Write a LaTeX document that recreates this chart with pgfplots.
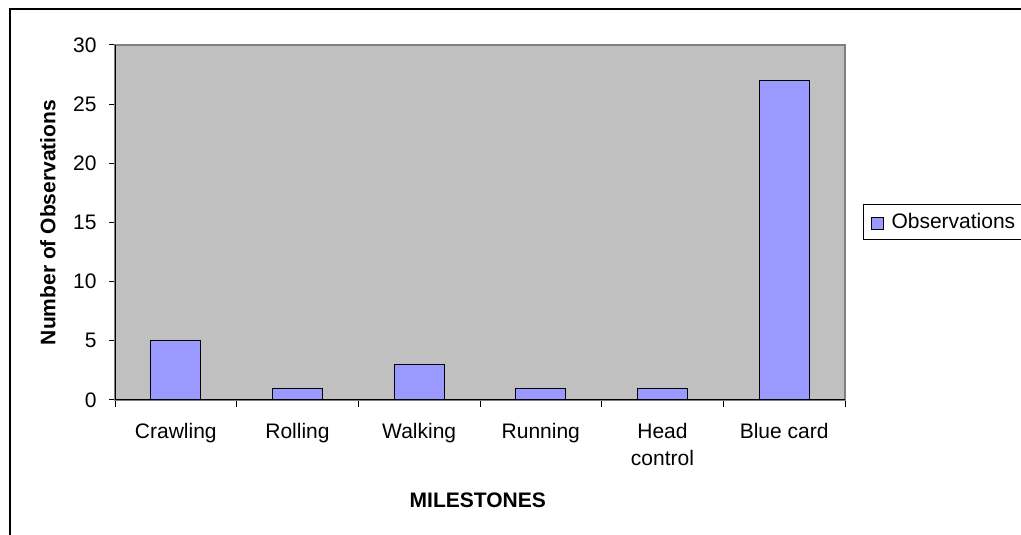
\documentclass[border=0pt]{standalone}
\usepackage{fontspec}
\setmainfont{Liberation Sans}
\usepackage{pgfplots}
\pgfplotsset{compat=1.18}
\definecolor{plotgray}{HTML}{C0C0C0}
\definecolor{barblue}{HTML}{9999FF}
\definecolor{bordergray}{HTML}{808080}
\newcommand{\ff}{\fontsize{21}{27}\selectfont}
\begin{document}
\begin{tikzpicture}[x=1pt,y=1pt]
\clip (0,0) rectangle (1021,535);
\fill[white] (0,0) rectangle (1021,535);
\draw[line width=2pt] (10,-10) -- (10,525.5) -- (1040,525.5);
\begin{axis}[
  at={(115pt,135pt)}, anchor=south west,
  scale only axis, width=730pt, height=355pt,
  xmin=-0.5, xmax=5.5, ymin=0, ymax=30,
  ytick={0,5,10,15,20,25,30},
  xtick={0,1,2,3,4,5},
  xticklabels={Crawling,Rolling,Walking,Running,Head\\control,Blue card},
  minor xtick={-0.5,0.5,1.5,2.5,3.5,4.5,5.5},
  major x tick style={draw=none},
  xtick pos=bottom, ytick pos=left,
  tick align=outside, major tick length=6pt, minor tick length=7pt,
  tick style={black, line width=1pt},
  axis line style={bordergray, line width=2pt},
  axis background/.style={fill=plotgray},
  ticklabel style={font=\ff},
  /pgf/number format/assume math mode=true,
  xticklabel style={align=center, anchor=north, yshift=-14pt},
  yticklabel style={anchor=east, xshift=-9pt},
  ylabel={Number of Observations},
  xlabel={MILESTONES},
  every axis y label/.style={at={(axis description cs:-0.0918,0.5)}, rotate=90, anchor=center, font=\bfseries\ff},
  every axis x label/.style={at={(axis description cs:0.497,-0.2817)}, anchor=center, font=\bfseries\ff},
  legend style={at={(axis description cs:1.0247,0.5521)}, anchor=north west,
    draw=black, line width=1pt, font=\ff, inner xsep=6pt, inner ysep=7pt},
  legend cell align=left,
  ybar, bar width=50pt,
]
\addplot[draw=black, fill=barblue, line width=1.3pt,
  legend image code/.code={\path[draw=none,fill=none] (0pt,0pt) -- (20pt,0pt);\draw[draw=black, fill=barblue, line width=1pt] (2pt,-8pt) rectangle (14pt,4pt);}]
  coordinates {(0,5) (1,1) (2,3) (3,1) (4,1) (5,27)};
\addlegendentry{Observations}
\draw[black, line width=1.5pt] (axis description cs:0,1) -- (axis description cs:0,0) -- (axis description cs:1,0);
\end{axis}
\end{tikzpicture}
\end{document}
